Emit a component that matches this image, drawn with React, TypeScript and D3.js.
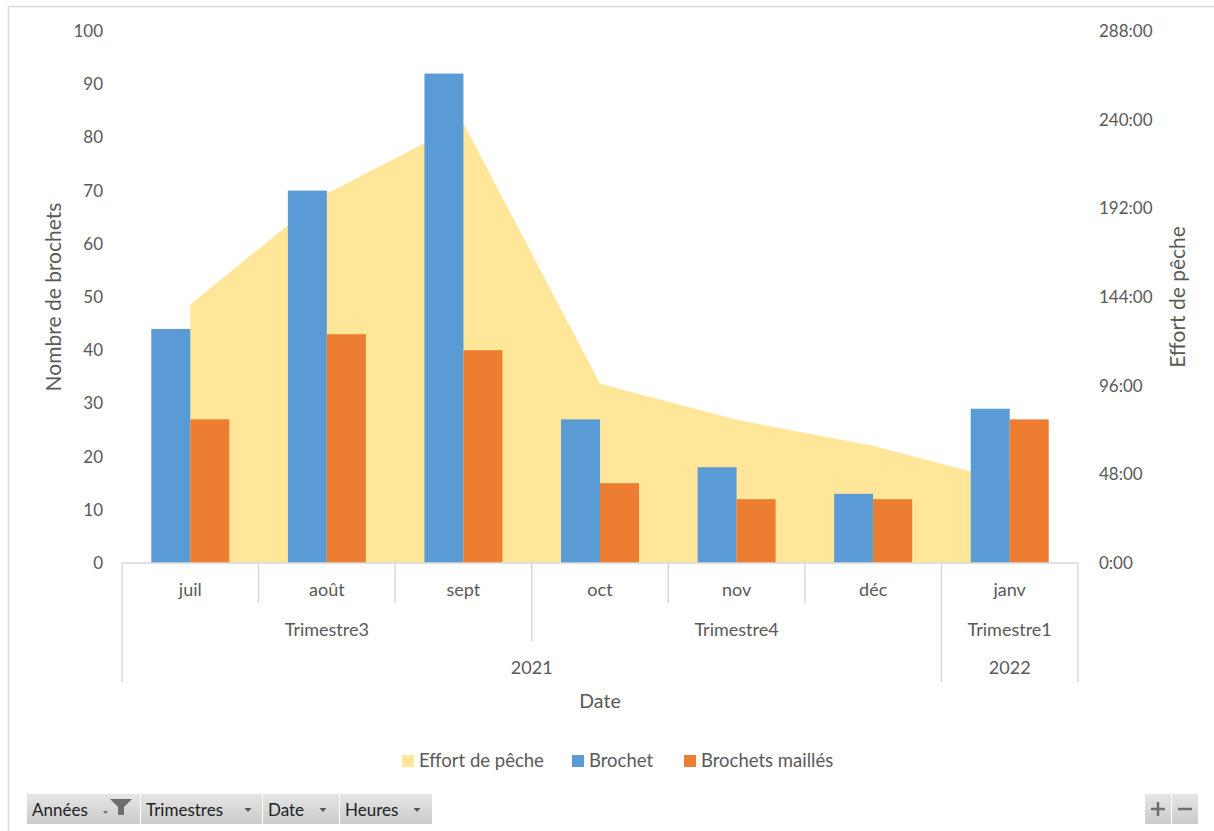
import React from "react";
import * as d3 from "d3";

const months = ["juil", "août", "sept", "oct", "nov", "déc", "janv"];
const brochet = [44, 70, 92, 27, 18, 13, 29];
const mailles = [27, 43, 40, 15, 12, 12, 27];
const effortHours = [140, 200, 238, 97, 77.5, 63.5, 44];
const quarters = [
  { label: "Trimestre3", from: 0, to: 3 },
  { label: "Trimestre4", from: 3, to: 6 },
  { label: "Trimestre1", from: 6, to: 7 },
];
const years = [
  { label: "2021", from: 0, to: 6 },
  { label: "2022", from: 6, to: 7 },
];
const leftTicks = [0, 10, 20, 30, 40, 50, 60, 70, 80, 90, 100];
const rightTicks = [0, 48, 96, 144, 192, 240, 288];
const seriesNames = ["Effort de pêche", "Brochet", "Brochets maillés"];
const colors = { effort: "#ffe699", brochet: "#5b9bd5", mailles: "#ed7d31" };
const buttons = ["Années", "Trimestres", "Date", "Heures"];

const W = 1214;
const H = 831;
const plotL = 122;
const plotR = 1078;
const plotT = 31;
const plotB = 563;
const FONT = "Lato, 'Noto Sans', sans-serif";
const TXT = "#595959";
const AXIS = "#d9d9d9";

export default function App() {
  const x = d3.scaleBand<string>().domain(months).range([plotL, plotR]).padding(0);
  const yL = d3.scaleLinear().domain([0, 100]).range([plotB, plotT]);
  const yR = d3.scaleLinear().domain([0, 288]).range([plotB, plotT]);
  const bw = x.bandwidth();
  const groupW = bw * 0.571;
  const inner = d3.scaleBand<string>().domain(["b", "m"]).range([-groupW / 2, groupW / 2]).padding(0);
  const cx = (m: string) => (x(m) as number) + bw / 2;
  const xAt = (i: number) => plotL + i * bw;

  const area = d3
    .area<number>()
    .x((_, i) => cx(months[i]))
    .y0(plotB)
    .y1((d) => yR(d));

  const fmtH = (h: number) => `${h}:00`;

  const btnX = [27, 141, 263, 340];
  const btnW = [113, 121, 76, 92];
  const arrowX = [0, 248, 323, 417];

  return (
    <svg
      width={W}
      height={H}
      style={{ position: "absolute", left: 0, top: 0, fontFamily: FONT }}
    >
      <defs>
        <linearGradient id="btn" x1="0" y1="0" x2="0" y2="1">
          <stop offset="0" stopColor="#e6e6e6" />
          <stop offset="1" stopColor="#cacaca" />
        </linearGradient>
      </defs>
      <rect x={0} y={0} width={W} height={H} fill="#fff" />
      <line x1={8.5} y1={6} x2={8.5} y2={H} stroke={AXIS} strokeWidth={1.5} />
      <line x1={8} y1={6.5} x2={W} y2={6.5} stroke={AXIS} strokeWidth={1.5} />

      {/* area */}
      <path d={area(effortHours) || ""} fill={colors.effort} />

      {/* bars */}
      {months.map((m, i) => (
        <g key={m}>
          <rect
            x={cx(m) + (inner("b") as number)}
            y={yL(brochet[i])}
            width={inner.bandwidth()}
            height={plotB - yL(brochet[i])}
            fill={colors.brochet}
          />
          <rect
            x={cx(m) + (inner("m") as number)}
            y={yL(mailles[i])}
            width={inner.bandwidth()}
            height={plotB - yL(mailles[i])}
            fill={colors.mailles}
          />
        </g>
      ))}

      {/* axis lines */}
      <g stroke={AXIS} strokeWidth={1.5}>
        <line x1={plotL} y1={plotB} x2={plotR} y2={plotB} />
        <line x1={plotL} y1={plotB} x2={plotL} y2={682} />
        <line x1={plotR} y1={plotB} x2={plotR} y2={682} />
        {months.map((m, i) =>
          i === 0 ? null : (
            <line
              key={m}
              x1={xAt(i)}
              x2={xAt(i)}
              y1={plotB}
              y2={years.some((y) => y.from === i) ? 682 : quarters.some((q) => q.from === i) ? 642 : 603}
            />
          )
        )}
      </g>

      {/* left ticks */}
      {leftTicks.map((t) => (
        <text key={t} x={103} y={yL(t)} dy="0.35em" textAnchor="end" fontSize={17} fill={TXT}>
          {t}
        </text>
      ))}
      {/* right ticks */}
      {rightTicks.map((t) => (
        <text key={t} x={1099} y={yR(t)} dy="0.35em" textAnchor="start" fontSize={17} fill={TXT}>
          {fmtH(t)}
        </text>
      ))}

      {/* category labels */}
      {months.map((m) => (
        <text key={m} x={cx(m)} y={596} textAnchor="middle" fontSize={18} fill={TXT}>
          {m}
        </text>
      ))}
      {quarters.map((q) => (
        <text key={q.label} x={(xAt(q.from) + xAt(q.to)) / 2} y={636} textAnchor="middle" fontSize={18} fill={TXT}>
          {q.label}
        </text>
      ))}
      {years.map((y) => (
        <text key={y.label} x={(xAt(y.from) + xAt(y.to)) / 2} y={674} textAnchor="middle" fontSize={18} fill={TXT}>
          {y.label}
        </text>
      ))}

      {/* axis titles */}
      <text x={600} y={708} textAnchor="middle" fontSize={19.5} fill={TXT}>
        Date
      </text>
      <text
        transform={`translate(61,297) rotate(-90)`}
        textAnchor="middle"
        fontSize={21}
        fill={TXT}
      >
        Nombre de brochets
      </text>
      <text
        transform={`translate(1185,297) rotate(-90)`}
        textAnchor="middle"
        fontSize={21}
        fill={TXT}
      >
        Effort de pêche
      </text>

      {/* legend */}
      {[
        { x: 402, c: colors.effort, t: seriesNames[0] },
        { x: 572, c: colors.brochet, t: seriesNames[1] },
        { x: 684, c: colors.mailles, t: seriesNames[2] },
      ].map((l) => (
        <g key={l.t}>
          <rect x={l.x} y={755} width={12} height={12} fill={l.c} />
          <text x={l.x + 17} y={767} fontSize={18.5} fill={TXT}>
            {l.t}
          </text>
        </g>
      ))}

      {/* field buttons */}
      {buttons.map((b, i) => (
        <g key={b}>
          <rect x={btnX[i]} y={794} width={btnW[i]} height={30} fill="url(#btn)" />
          <text x={btnX[i] + 5} y={816} fontSize={17} fill="#222">
            {b}
          </text>
          {i === 0 ? (
            <g fill="#6e6e6e">
              <path d="M110,799 L132,799 L124,807 L124,815 L118,815 L118,807 Z" />
              <path d="M103,811 L108,811 L105.5,814 Z" />
            </g>
          ) : (
            <path
              d={`M${arrowX[i] - 3.5},808 L${arrowX[i] + 3.5},808 L${arrowX[i]},812 Z`}
              fill="#555"
            />
          )}
        </g>
      ))}
      <rect x={1145} y={794} width={26} height={30} fill="url(#btn)" />
      <rect x={1172} y={794} width={26} height={30} fill="url(#btn)" />
      <g stroke="#6e6e6e" strokeWidth={2.5}>
        <line x1={1151} y1={809} x2={1165} y2={809} />
        <line x1={1158} y1={802} x2={1158} y2={816} />
        <line x1={1178} y1={809} x2={1192} y2={809} />
      </g>
    </svg>
  );
}
